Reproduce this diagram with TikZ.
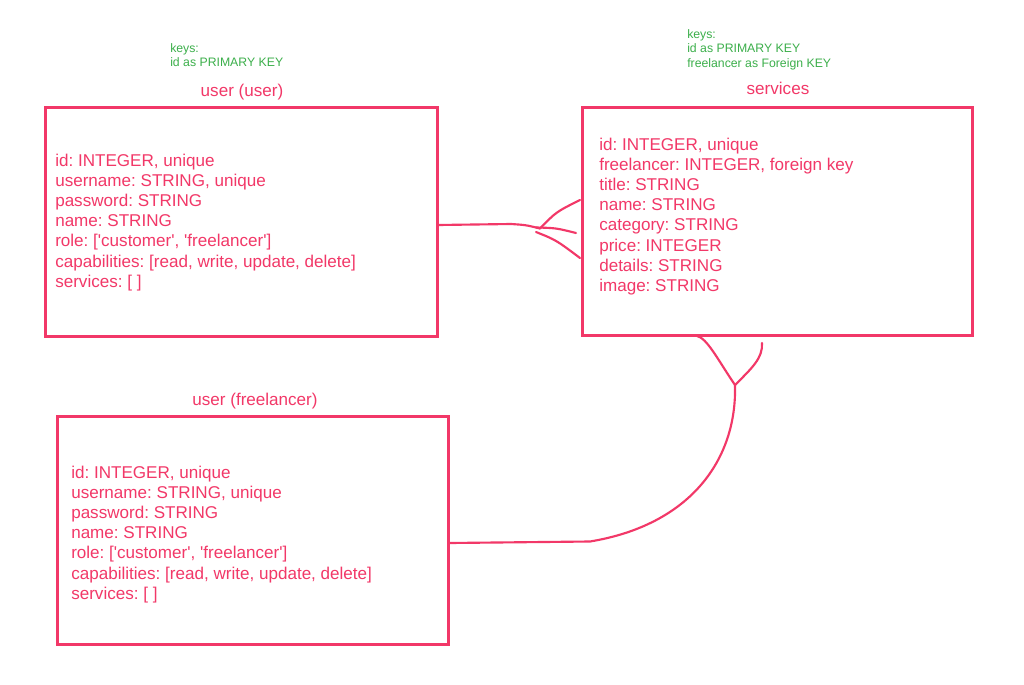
\documentclass[tikz,border=0pt]{standalone}
\usepackage{fontspec}
\setmainfont{Liberation Sans}
\usetikzlibrary{positioning}
\usetikzlibrary{calc}
\definecolor{erpink}{RGB}{242,56,104}
\definecolor{ergreen}{RGB}{60,175,75}
\newcommand{\sq}{\textquotesingle}
\frenchspacing

\begin{document}
\begin{tikzpicture}[x=0.75pt, y=-0.75pt,
  tbl/.style={draw=erpink, line width=2.25pt, rectangle, inner sep=0pt},
  rel/.style={draw=erpink, line width=1.6pt, line cap=round},
  fields/.style={anchor=north west, inner sep=0pt, align=left, text=erpink, font=\fontsize{12.8}{15.15}\selectfont},
  ttl/.style={text=erpink, inner sep=0pt, font=\fontsize{12.8}{15}\selectfont},
  keys/.style={anchor=north west, inner sep=0pt, align=left, text=ergreen, font=\fontsize{9.2}{10.9}\selectfont}]

\useasboundingbox[fill=white] (0,0) rectangle (1024,685);

% tables
\node[tbl, minimum width=294pt, minimum height=171.75pt] (user) at (241,221.5) {};
\node[tbl, minimum width=292.5pt, minimum height=171pt] (svc) at (777,221) {};
\node[tbl, minimum width=293.25pt, minimum height=171pt] (free) at (252.5,530) {};

% titles
\node[ttl] (userttl) at (242,92) {user (user)};
\node[ttl] (svcttl) at (778,88) {services};
\node[ttl] (freettl) at (255,401) {user (freelancer)};

% keys
\node[keys] (userkeys) at (170,43) {keys:\\id as PRIMARY KEY};
\node[keys] (svckeys) at (687,29) {keys:\\id as PRIMARY KEY\\freelancer as Foreign KEY};

% fields
\node[fields] (userf) at (55,153.5) {id: INTEGER, unique\\username: STRING, unique\\password: STRING\\name: STRING\\role: [\sq customer\sq, \sq freelancer\sq]\\capabilities: [read, write, update, delete]\\services: [ ]};
\node[fields] (svcf) at (599,137.5) {id: INTEGER, unique\\freelancer: INTEGER, foreign key\\title: STRING\\name: STRING\\category: STRING\\price: INTEGER\\details: STRING\\image: STRING};
\node[fields] (freef) at (71,465.5) {id: INTEGER, unique\\username: STRING, unique\\password: STRING\\name: STRING\\role: [\sq customer\sq, \sq freelancer\sq]\\capabilities: [read, write, update, delete]\\services: [ ]};

%%% user -- services
\coordinate (fk1) at (540,228.5);
\coordinate (foot1a) at (580,200);
\coordinate (foot1b) at (576,233);
\coordinate (foot1c) at (580,258);
\draw[rel] ($(user.east)+(0,3.5)$) -- (511,224) .. controls (526,225) .. (fk1);
\draw[rel] (fk1) .. controls (556,212) .. (foot1a);
\draw[rel] (536,227.5) .. controls (556,228) .. (foot1b);
\draw[rel] (536,232) .. controls (556,240) .. (foot1c);

%%% freelancer -- services
\coordinate (fk2) at (735,385);
\coordinate (foot2a) at (697,336);
\coordinate (foot2b) at (762,343);
\draw[rel] ($(free.east)+(0,13)$) -- (590,541.5) .. controls (690,525) and (737,460) .. (fk2);
\draw[rel] (fk2) .. controls (718,360) and (707,338) .. (foot2a);
\draw[rel] (fk2) .. controls (752,368) and (763,358) .. (foot2b);

\end{tikzpicture}
\end{document}
